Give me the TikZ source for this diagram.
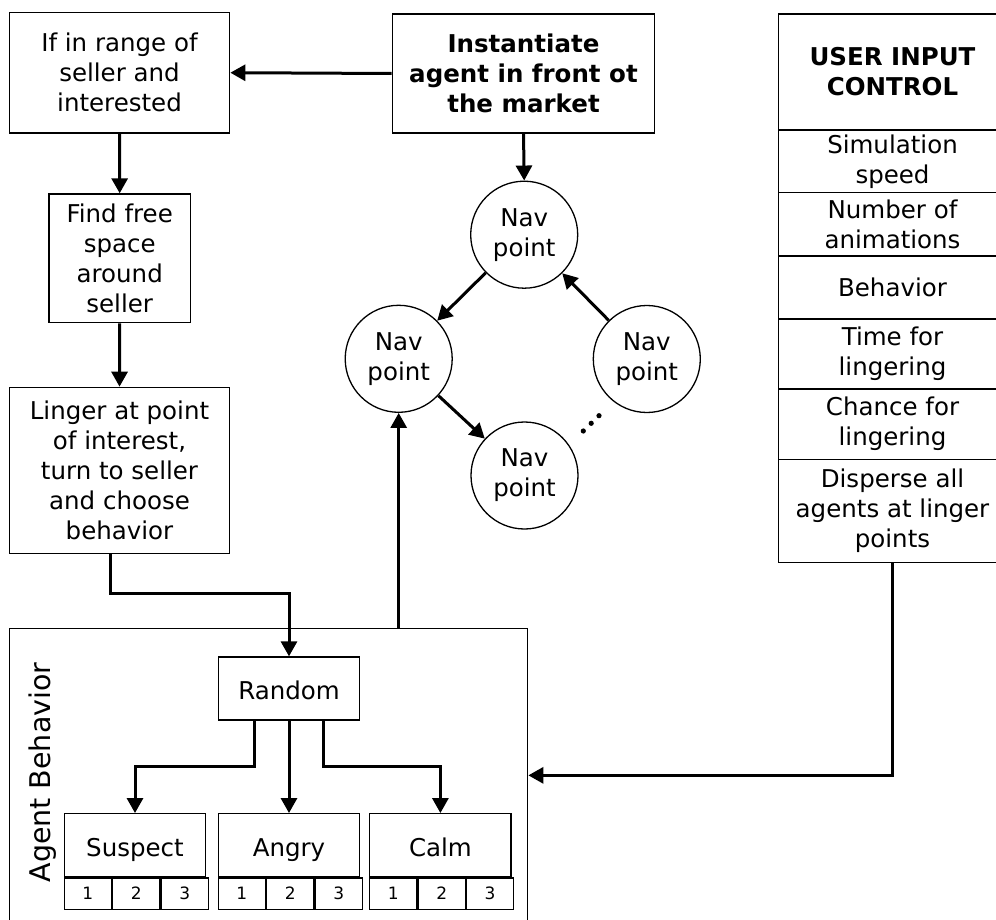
\documentclass[tikz,border=0pt]{standalone}
\usepackage{fontspec}
\setmainfont{DejaVu Sans}
\usetikzlibrary{arrows.meta}
\begin{document}
\begin{tikzpicture}[x=1pt,y=-1pt,
  base/.style={font=\fontsize{24.5}{30}\selectfont, align=center, inner sep=0pt},
  box/.style={base, draw, line width=1.3pt},
  onelinebox/.style={box, text height=22pt, text depth=0pt},
  navpt/.style={base, draw, circle, minimum size=107pt, line width=1.3pt},
  cell/.style={draw, line width=1.3pt, inner sep=0pt, minimum width=47.13pt,
    minimum height=31.3pt, font=\fontsize{17}{20}\selectfont},
  conn/.style={line width=3pt, -{Triangle[length=15pt,width=16pt]}}
]
\useasboundingbox (0,0) rectangle (996,920);
\clip (0,0) rectangle (996,920);

% left column of steps
\node[box, minimum width=220.4pt, minimum height=120.7pt] (range) at (119.5,72.7)
  {If in range of\\seller and\\interested};
\node[box, minimum width=141.3pt, minimum height=128.7pt] (free) at (119.7,258.3)
  {Find free\\space\\around\\seller};
\node[box, minimum width=220.4pt, minimum height=166pt] (linger) at (119.5,470.3)
  {Linger at point\\of interest,\\turn to seller\\and choose\\behavior};

% spawn box
\node[box, font=\fontsize{24.5}{30}\selectfont\bfseries, minimum width=262.4pt,
  minimum height=119pt] (spawn) at (523.5,73.5)
  {Instantiate\\agent in front ot\\the market};

% navigation points
\node[navpt] (navT) at (524.2,234.7) {Nav\\point};
\node[navpt] (navL) at (398.7,358.8) {Nav\\point};
\node[navpt] (navR) at (646.8,359.0) {Nav\\point};
\node[navpt] (navB) at (524.5,475.5) {Nav\\point};
\foreach \px/\py in {583.3/431, 591.2/423.3, 599/415.7}
  \fill (\px,\py) circle (2.6pt);

% user input control panel
\begin{scope}[every node/.append style={box, minimum width=227.6pt}]
\node[font=\fontsize{24.5}{30}\selectfont\bfseries, minimum height=116pt] (u0) at (892.5,72)
  {USER INPUT\\CONTROL};
\node[minimum height=62.7pt] (u1) at (892.5,161.35) {Simulation\\speed};
\node[minimum height=63.3pt] (u2) at (892.5,224.35) {Number of\\animations};
\node[minimum height=63pt]   (u3) at (892.5,287.5) {Behavior};
\node[minimum height=70pt]   (u4) at (892.5,354) {Time for\\lingering};
\node[minimum height=70.3pt] (u5) at (892.5,424.15) {Chance for\\lingering};
\node[minimum height=103.4pt] (u6) at (892.5,511) {Disperse all\\agents at linger\\points};
\end{scope}

% agent behaviour container
\node[draw, line width=1.3pt, minimum width=518.4pt, minimum height=293.3pt, inner sep=0pt]
  (agent) at (268.5,775.35) {};
\node[font=\fontsize{28.5}{32}\selectfont, inner sep=0pt, rotate=90] (agentlbl) at (43,772.5)
  {Agent Behavior};

\node[onelinebox, minimum width=141.4pt, minimum height=63pt] (rand) at (289,688.5) {Random};

\node[onelinebox, minimum width=141.4pt, minimum height=63pt] (susp) at (135,845.2) {Suspect};
\node[onelinebox, minimum width=141.4pt, minimum height=63pt] (angry) at (289,845.2) {Angry};
\node[onelinebox, minimum width=141.4pt, minimum height=63pt] (calm) at (440.4,845.2) {Calm};

\foreach \b in {susp,angry,calm}{
  \node[cell, anchor=north west] (\b1) at (\b.south west) {1};
  \node[cell, anchor=north west] (\b2) at (\b1.north east) {2};
  \node[cell, anchor=north west] (\b3) at (\b2.north east) {3};
}

% connectors
\draw[conn] (spawn.west) -- (range.east);
\draw[conn] (range.south) -- (free.north);
\draw[conn] (free.south) -- (linger.north);
\draw[conn] (spawn.south) -- (navT.north);
\draw[conn] (navT) -- (navL);
\draw[conn] (navL) -- (navB);
\draw[conn] (navR) -- (navT);
\draw[conn] (agent.north -| navL.south) -- (navL.south);
\draw[conn] ([xshift=-8.8pt]linger.south) -- ++(0,40) -| (rand.north);
\draw[conn] ([xshift=-34.7pt]rand.south) -- ++(0,45.7) -| (susp.north);
\draw[conn] (rand.south) -- (angry.north);
\draw[conn] ([xshift=34.7pt]rand.south) -- ++(0,45.7) -| (calm.north);
\draw[conn] (u6.south) |- (agent.east);
\end{tikzpicture}
\end{document}
